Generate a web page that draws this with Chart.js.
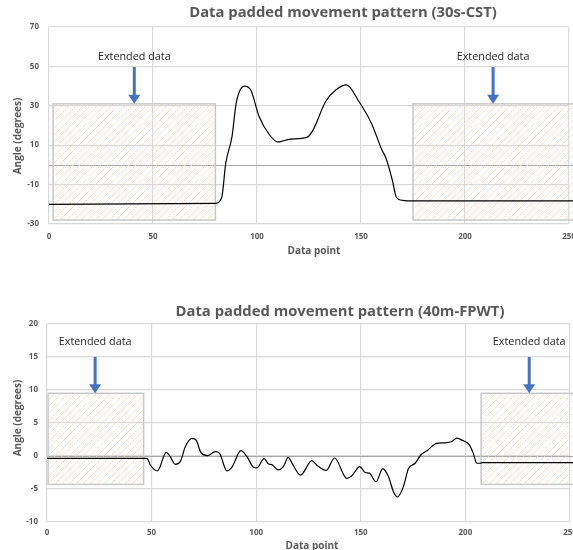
<!DOCTYPE html>
<html>
<head>
<meta charset="utf-8">
<script src="https://cdn.jsdelivr.net/npm/chart.js@4"></script>
<style>
  body { margin: 0; background: #fff; overflow: hidden; width: 573px; height: 550px; position: relative; }
  canvas { position: absolute; left: 0; }
  #cstChart { top: 0; }
  #fpwtChart { top: 280px; }
</style>
</head>
<body>
<canvas id="cstChart" width="600" height="280"></canvas>
<canvas id="fpwtChart" width="600" height="270"></canvas>
<script>
// 30s-CST trace (data point, angle)
var cstX = [0, 80, 83, 85, 88, 90, 94, 97, 101, 106, 110, 116, 124, 127, 133, 138, 143, 149, 155, 160, 162, 165, 167, 170, 175, 252];
var cstY = [-20, -19.5, -16.7, 1, 14.5, 31.4, 40, 38, 24.6, 15.3, 11.6, 13.1, 14, 17.8, 32.2, 38.1, 40.6, 32.2, 21.2, 7.7, 3.5, -7.5, -16.4, -18, -18.3, -18.3];
var cstTicksY = [-30, -10, 10, 30, 50, 70];
var cstPadded = [[2, 80], [175, 253]];     // x ranges of the extended data boxes
var cstPadRange = [-28, 31];               // y range of the boxes
var cstArrows = [41, 213.5];

// 40m-FPWT trace
var fpwtX = [0, 47.8, 49.4, 52.8, 57, 58.9, 61.3, 63.7, 66.1, 69.3, 71.3, 73.6, 76.7, 80.4, 82.5, 86, 88.4, 92.7, 95.6, 98.7, 100.3, 103.8, 105.9, 107.5, 110.4, 113, 115.3, 117.3, 121.2, 126.6, 129, 133.4, 137.5, 143.3, 145.7, 149.5, 152.1, 154.1, 157.3, 160.5, 163.2, 165.6, 167.5, 170.4, 172.8, 176, 178.7, 181.6, 186.3, 190.3, 193.5, 195.9, 198.3, 201.9, 203.8, 205.4, 207, 208.3, 252];
var fpwtY = [-0.35, -0.35, -1.36, -2.27, 0.55, -0.1, -1.26, -0.86, 1.4, 2.67, 2.4, 0.5, 0.05, 0.65, 0.4, -2.27, -1.7, 0.8, -0.1, -1.7, -1.8, -0.4, -1.2, -1.3, -2.1, -1.6, -0.2, -1.2, -2.9, -0.7, -1.4, -2.2, -0.3, -3.4, -3.0, -1.6, -2.5, -2.6, -3.9, -1.9, -3.1, -5.4, -6.2, -4.6, -1.9, -1.1, 0.15, 0.8, 1.9, 2.0, 2.2, 2.7, 2.4, 1.7, 0.4, -1.1, -1.1, -1.0, -1.0];
var fpwtTicksY = [-10, -5, 0, 5, 10, 15, 20];
var fpwtPadded = [[0.5, 46.2], [207.5, 253]];
var fpwtPadRange = [-4.3, 9.5];
var fpwtArrows = [23, 230.5];

var ticksX = [0, 50, 100, 150, 200, 250];

var FONT = '"Open Sans", sans-serif';
var GRAY = '#595959';

function hatchPattern(ctx) {
    var c = document.createElement('canvas');
    c.width = 7; c.height = 7;
    var g = c.getContext('2d');
    g.strokeStyle = '#fad3bd';
    g.lineWidth = 1;
    g.setLineDash([2, 1]);
    g.beginPath();
    g.moveTo(0, 7); g.lineTo(7, 0);
    g.moveTo(-1, 1); g.lineTo(1, -1);
    g.moveTo(6, 8); g.lineTo(8, 6);
    g.stroke();
    return ctx.createPattern(c, 'repeat');
}

function makeChart(id, cfg) {
    var ctx = document.getElementById(id).getContext('2d');
    var deco = {
        id: 'deco',
        beforeDatasetsDraw: function (chart) {
            var c = chart.ctx, xs = chart.scales.x, ys = chart.scales.y;
            var area = chart.chartArea;
            // zero line
            c.save();
            c.strokeStyle = '#a6a6a6';
            c.lineWidth = 1;
            c.beginPath();
            c.moveTo(area.left, Math.round(ys.getPixelForValue(0)) + 0.5);
            c.lineTo(chart.width, Math.round(ys.getPixelForValue(0)) + 0.5);
            c.stroke();
            // padded boxes
            var pat = hatchPattern(c);
            cfg.padded.forEach(function (r) {
                var x0 = xs.getPixelForValue(r[0]), x1 = xs.getPixelForValue(r[1]);
                var y0 = ys.getPixelForValue(cfg.padRange[1]), y1 = ys.getPixelForValue(cfg.padRange[0]);
                c.fillStyle = pat;
                c.fillRect(x0, y0, x1 - x0, y1 - y0);
                c.strokeStyle = '#c8c8c8';
                c.lineWidth = 1.5;
                c.strokeRect(x0, y0, x1 - x0, y1 - y0);
            });
            c.restore();
        },
        afterDraw: function (chart) {
            var c = chart.ctx, xs = chart.scales.x, ys = chart.scales.y;
            c.save();
            // arrows + labels
            cfg.arrows.forEach(function (ax) {
                var px = xs.getPixelForValue(ax);
                var top = ys.getPixelForValue(cfg.arrowFrom);
                var tip = ys.getPixelForValue(cfg.padRange[1]);
                c.strokeStyle = '#4472c4';
                c.fillStyle = '#4472c4';
                c.lineWidth = 3;
                c.beginPath();
                c.moveTo(px, top);
                c.lineTo(px, tip - 8);
                c.stroke();
                c.beginPath();
                c.moveTo(px - 6, tip - 9);
                c.lineTo(px + 6, tip - 9);
                c.lineTo(px, tip);
                c.closePath();
                c.fill();
                c.fillStyle = '#262626';
                c.font = '10.8px ' + FONT;
                c.textAlign = 'center';
                c.textBaseline = 'middle';
                c.fillText('Extended data', px, ys.getPixelForValue(cfg.labelAt));
            });
            // titles
            c.fillStyle = GRAY;
            c.textAlign = 'center';
            c.textBaseline = 'middle';
            c.font = 'bold 14.8px ' + FONT;
            c.fillText(cfg.title, cfg.titlePos[0], cfg.titlePos[1]);
            c.font = 'bold 10px ' + FONT;
            c.fillText('Data point', cfg.xTitlePos[0], cfg.xTitlePos[1]);
            c.translate(cfg.yTitlePos[0], cfg.yTitlePos[1]);
            c.rotate(-Math.PI / 2);
            c.fillText('Angle (degrees)', 0, 0);
            c.restore();
        }
    };

    var points = cfg.xs.map(function (x, i) { return { x: x, y: cfg.ys[i] }; });

    return new Chart(ctx, {
        type: 'line',
        data: {
            datasets: [{
                data: points,
                borderColor: '#000000',
                borderWidth: 1.2,
                pointRadius: 0,
                cubicInterpolationMode: 'monotone',
                fill: false,
                clip: false
            }]
        },
        options: {
            responsive: false,
            animation: false,
            layout: { padding: { top: cfg.padTop, right: cfg.padRight, left: 0, bottom: 0 } },
            plugins: { legend: { display: false }, tooltip: { enabled: false } },
            scales: {
                x: {
                    type: 'linear',
                    min: 0,
                    max: 250,
                    afterBuildTicks: function (s) { s.ticks = ticksX.map(function (v) { return { value: v }; }); },
                    afterFit: function (s) { s.height = cfg.xHeight; },
                    ticks: { font: { family: FONT, size: 8, weight: 'bold' }, color: GRAY, padding: cfg.xTickPad, maxRotation: 0 },
                    grid: { color: '#d9d9d9', lineWidth: 1.2, drawTicks: false },
                    border: { display: false }
                },
                y: {
                    min: cfg.yMin,
                    max: cfg.yMax,
                    afterBuildTicks: function (s) { s.ticks = cfg.yTicks.map(function (v) { return { value: v }; }); },
                    afterFit: function (s) { s.width = cfg.yWidth; },
                    ticks: { font: { family: FONT, size: 8, weight: 'bold' }, color: GRAY, padding: cfg.yTickPad },
                    grid: { color: '#d9d9d9', lineWidth: 1.2, drawTicks: false },
                    border: { display: false }
                }
            }
        },
        plugins: [deco]
    });
}

makeChart('cstChart', {
    xs: cstX, ys: cstY, yTicks: cstTicksY, yMin: -30, yMax: 70,
    padded: cstPadded, padRange: cstPadRange, arrows: cstArrows,
    arrowFrom: 49.7, labelAt: 55,
    title: 'Data padded movement pattern (30s-CST)',
    titlePos: [343, 13], xTitlePos: [314, 251], yTitlePos: [18, 136],
    padTop: 27, padRight: 31, yWidth: 49, xHeight: 56, xTickPad: 8, yTickPad: 10
});

makeChart('fpwtChart', {
    xs: fpwtX, ys: fpwtY, yTicks: fpwtTicksY, yMin: -10, yMax: 20,
    padded: fpwtPadded, padRange: fpwtPadRange, arrows: fpwtArrows,
    arrowFrom: 15, labelAt: 17.3,
    title: 'Data padded movement pattern (40m-FPWT)',
    titlePos: [340, 32], xTitlePos: [312, 266], yTitlePos: [18, 138],
    padTop: 44, padRight: 30, yWidth: 47, xHeight: 28, xTickPad: 6, yTickPad: 9
});
</script>
</body>
</html>
